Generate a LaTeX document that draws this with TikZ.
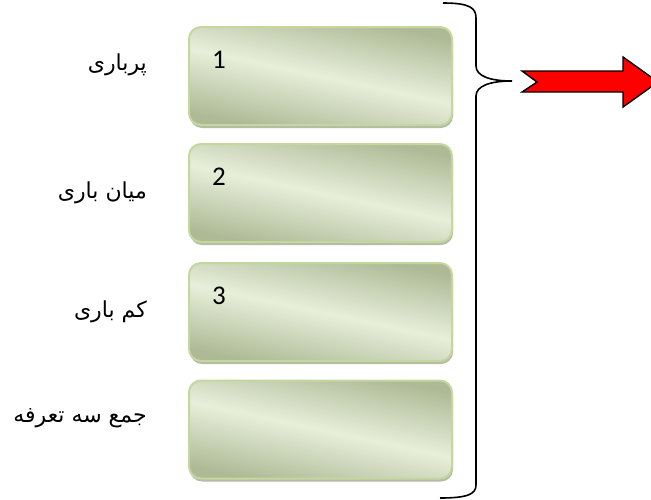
\documentclass[tikz,border=0pt]{standalone}
\usepackage{fontspec}
\setmainfont{Carlito}
\newfontfamily\arabicfont[Script=Arabic]{DejaVu Sans}
\TeXXeTstate=1
\usepackage{tikz}
\usetikzlibrary{shadows}

\definecolor{boxdark}{HTML}{AEBA96}
\definecolor{boxlight}{HTML}{E7EFDA}
\definecolor{boxedge}{HTML}{C4D89E}

\begin{document}
\begin{tikzpicture}[x=1pt, y=-1pt,
    tarif/.style={draw=boxedge, line width=2pt, rounded corners=12pt,
        minimum width=263pt, minimum height=98pt, inner sep=0pt,
        top color=boxdark, bottom color=boxdark, middle color=boxlight, shading angle=-12,
        drop shadow={shadow xshift=1pt, shadow yshift=-3pt, fill=boxdark!85!black, opacity=0.7}},
    lbl/.style={anchor=east, font=\arabicfont\fontsize{22}{26}\selectfont, inner sep=0pt},
    num/.style={font=\fontsize{27}{30}\selectfont, inner sep=0pt}]
    \useasboundingbox (0,0) rectangle (651,499);

    % Boxes
    \node[tarif] (box1) at (320.5,76) {};
    \node[tarif] (box2) at (320.5,193) {};
    \node[tarif] (box3) at (320.5,312) {};
    \node[tarif] (box4) at (320.5,429.5) {};

    % Numbers
    \node[num] (n1) at ([xshift=31pt, yshift=-34pt]box1.north west) {1};
    \node[num] (n2) at ([xshift=31pt, yshift=-34pt]box2.north west) {2};
    \node[num] (n3) at ([xshift=31pt, yshift=-34pt]box3.north west) {3};

    % Labels
    \node[lbl] (lab1) at (147,65) {\beginR پرباری\endR};
    \node[lbl] (lab2) at (147,193) {\beginR میان باری\endR};
    \node[lbl] (lab3) at (147,312) {\beginR کم باری\endR};
    \node[lbl] (lab4) at (147,418) {\beginR جمع سه تعرفه\endR};

    % Brace
    \coordinate (tip) at (512,81);
    \draw[line width=1.6pt] (443,3) .. controls (470,3) and (476,8) .. (476,18) -- (476,66)
        .. controls (476,76) and (490,81) .. (tip)
        .. controls (490,81) and (476,86) .. (476,96) -- (476,485)
        .. controls (476,494) and (468,498) .. (440,498);

    % Arrow
    \draw[line width=1.4pt, fill=red, line join=miter] (522,71) -- (623,71) -- (623,57) -- (658,82)
        -- (623,107) -- (623,92) -- (522,92) -- (537,82) -- cycle;
\end{tikzpicture}
\end{document}
